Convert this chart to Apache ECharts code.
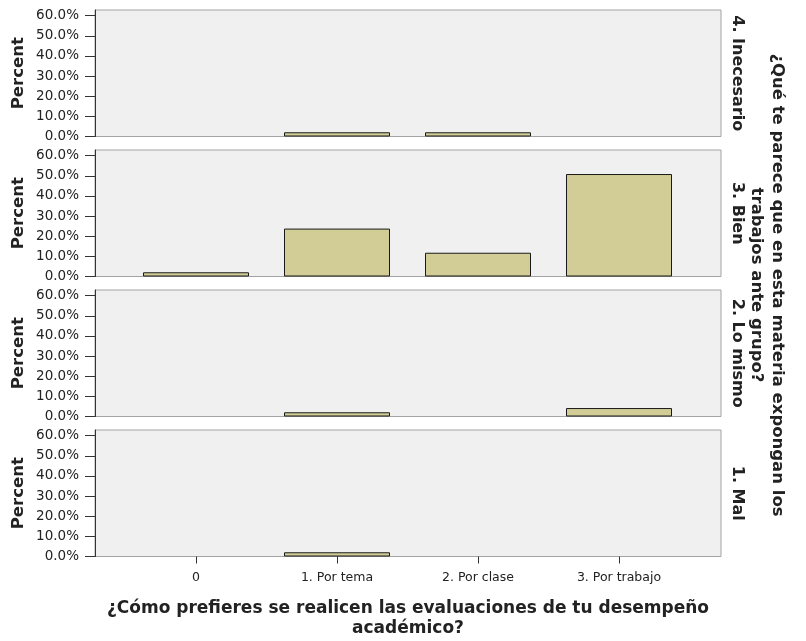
<!DOCTYPE html>
<html>
<head>
<meta charset="utf-8">
<script src="https://cdn.jsdelivr.net/npm/echarts@6/dist/echarts.min.js"></script>
<style>
  html, body { margin: 0; padding: 0; background: #ffffff; }
  #chart { width: 806px; height: 641px; }
</style>
</head>
<body>
<div id="chart"></div>
<script>
// Categories on the horizontal axis
const categories = ['0', '1. Por tema', '2. Por clase', '3. Por trabajo'];

// Facet rows, top to bottom
const rowLabels = ['4. Inecesario', '3. Bien', '2. Lo mismo', '1. Mal'];

// Percent of respondents per category, one array per row
const inecesario = [0, 2.1, 2.1, 0];
const bien = [2.1, 23.8, 11.8, 50.9];
const loMismo = [0, 2.1, 0, 4.2];
const mal = [0, 2.1, 0, 0];
const rowValues = [inecesario, bien, loMismo, mal];

// Y-axis tick values
const yTicks = [0, 10, 20, 30, 40, 50, 60];

const xTitle = '¿Cómo prefieres se realicen las evaluaciones de tu desempeño\nacadémico?';
const rowTitle = '¿Qué te parece que en esta materia expongan los\ntrabajos ante grupo?';
const yTitle = 'Percent';

// Layout
const frameLeft = 95, frameWidth = 626;
const plotLeft = 125.5, plotWidth = 564;
const rowTop0 = 10, rowStep = 140, rowHeight = 126.5;
const yMax = 62.83;

const sans = '"DejaVu Sans", "Liberation Sans", Arial, sans-serif';
const textColor = '#222222';

const grid = [], xAxis = [], yAxis = [], series = [], graphic = [];

rowValues.forEach(function (vals, i) {
  const top = rowTop0 + i * rowStep;
  const last = i === rowValues.length - 1;

  // panel frame with the percent axis
  grid.push({ left: frameLeft, top: top, width: frameWidth, height: rowHeight,
    show: true, backgroundColor: '#f0f0f0', borderColor: '#a3a3a3', borderWidth: 1 });
  xAxis.push({ gridIndex: 2 * i, type: 'value', min: 0, max: 1, show: false });
  yAxis.push({
    gridIndex: 2 * i, type: 'value', min: 0, max: yMax,
    axisLine: { show: true, lineStyle: { color: '#333333', width: 1 } },
    axisTick: { show: true, length: 10, customValues: yTicks, lineStyle: { color: '#333333' } },
    axisLabel: { customValues: yTicks, margin: 16, color: textColor,
      fontFamily: sans, fontSize: 13.5,
      formatter: function (v) { return v.toFixed(1) + '%'; } },
    splitLine: { show: false }
  });

  // category band area holding the bars
  grid.push({ left: plotLeft, top: top, width: plotWidth, height: rowHeight });
  xAxis.push({
    gridIndex: 2 * i + 1, type: 'category', data: categories,
    axisLine: { show: false },
    axisTick: { show: last, alignWithLabel: true, length: 7,
      lineStyle: { color: '#333333' } },
    axisLabel: { show: last, margin: 15, color: textColor,
      fontFamily: sans, fontSize: 12.5 },
    splitLine: { show: false }
  });
  yAxis.push({ gridIndex: 2 * i + 1, type: 'value', min: 0, max: yMax, show: false });

  series.push({
    type: 'bar', xAxisIndex: 2 * i + 1, yAxisIndex: 2 * i + 1,
    data: vals.map(function (v) { return v === 0 ? null : v; }),
    barWidth: 106,
    itemStyle: { color: '#d2cd96', borderColor: '#1a1a1a', borderWidth: 1 },
    silent: true
  });

  // left axis title
  graphic.push({ type: 'text', x: 18.5, y: top + rowHeight / 2, rotation: Math.PI / 2,
    style: { text: yTitle, fontFamily: sans, fontWeight: 'bold', fontSize: 16.5,
      fill: textColor, align: 'center', verticalAlign: 'middle' } });

  // row label on the right
  graphic.push({ type: 'text', x: 737, y: top + rowHeight / 2, rotation: -Math.PI / 2,
    style: { text: rowLabels[i], fontFamily: sans, fontWeight: 'bold', fontSize: 16,
      fill: textColor, align: 'center', verticalAlign: 'middle' } });
});

// row variable title
graphic.push({ type: 'text', x: 767, y: 285, rotation: -Math.PI / 2,
  style: { text: rowTitle, fontFamily: sans, fontWeight: 'bold', fontSize: 16.5,
    lineHeight: 21, fill: textColor, align: 'center', verticalAlign: 'middle' } });

// category variable title
graphic.push({ type: 'text', x: 408, y: 619,
  style: { text: xTitle, fontFamily: sans, fontWeight: 'bold', fontSize: 17,
    lineHeight: 20, fill: textColor, align: 'center', verticalAlign: 'middle' } });

const chart = echarts.init(document.getElementById('chart'), null, { renderer: 'canvas' });
chart.setOption({
  animation: false,
  backgroundColor: '#ffffff',
  grid: grid, xAxis: xAxis, yAxis: yAxis, series: series, graphic: graphic
});
</script>
</body>
</html>
